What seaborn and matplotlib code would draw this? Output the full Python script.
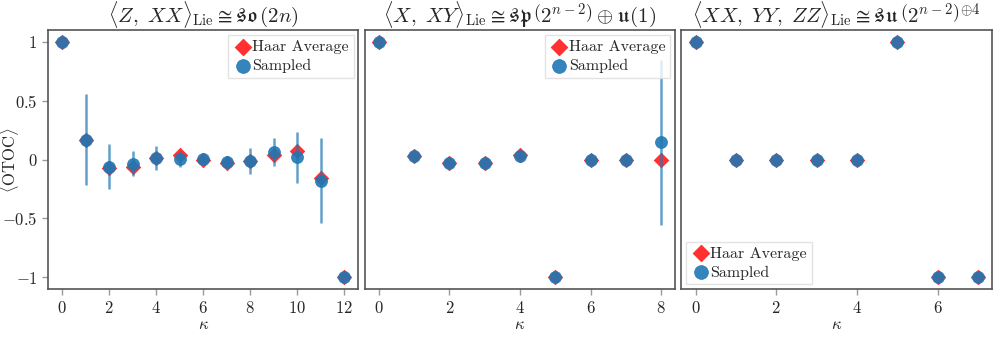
import numpy as np
import pandas as pd
import matplotlib
matplotlib.use("Agg")
import matplotlib.pyplot as plt
import seaborn as sns

# panel 1: <Z, XX>_Lie
k1 = list(range(13))
haar1 = [1.0, 0.17, -0.07, -0.06, 0.01, 0.035, 0.0, -0.025, -0.01, 0.035, 0.07, -0.16, -1.0]
samp1 = [1.0, 0.17, -0.06, -0.035, 0.012, 0.005, 0.003, -0.023, -0.015, 0.065, 0.02, -0.18, -1.0]
err1 = [0.0, 0.39, 0.19, 0.105, 0.1, 0.07, 0.03, 0.05, 0.11, 0.12, 0.215, 0.36, 0.0]

# panel 2: <X, XY>_Lie
k2 = list(range(9))
haar2 = [1.0, 0.03, -0.03, -0.03, 0.035, -1.0, 0.0, 0.0, 0.0]
samp2 = [1.0, 0.028, -0.028, -0.03, 0.034, -1.0, 0.0, 0.0, 0.148]
err2 = [0.0, 0.01, 0.01, 0.01, 0.03, 0.0, 0.01, 0.01, 0.7]

# panel 3: <XX, YY, ZZ>_Lie
k3 = list(range(8))
haar3 = [1.0, 0.0, 0.0, 0.0, 0.0, 1.0, -1.0, -1.0]
samp3 = [1.0, 0.0, 0.0, 0.0, 0.0, 1.0, -1.0, -1.0]
err3 = [0.0, 0.0, 0.0, 0.0, 0.0, 0.0, 0.0, 0.0]

titles = [
    r"$\langle Z,\ XX\rangle_{\mathrm{Lie}} \cong \mathfrak{so}\,(2n)$",
    r"$\langle X,\ XY\rangle_{\mathrm{Lie}} \cong \mathfrak{sp}\,\left(2^{n-2}\right) \oplus \mathfrak{u}(1)$",
    r"$\langle XX,\ YY,\ ZZ\rangle_{\mathrm{Lie}} \cong \mathfrak{su}\,\left(2^{n-2}\right)^{\oplus 4}$",
]
legend_locs = ["upper right", "upper right", "lower left"]
yticks = [-1, -0.5, 0, 0.5, 1]
ytick_labels = [r"$-1$", r"$-0.5$", r"$0$", r"$0.5$", r"$1$"]

sns.set_theme(style="ticks")
plt.rcParams["font.family"] = ["cmr10", "DejaVu Serif"]
plt.rcParams["mathtext.fontset"] = "cm"
plt.rcParams["axes.formatter.use_mathtext"] = True
plt.rcParams["axes.unicode_minus"] = False

fig, axes = plt.subplots(1, 3, figsize=(9.97, 3.37), dpi=100, sharey=True)
fig.subplots_adjust(left=0.048, right=0.995, bottom=0.142, top=0.911, wspace=0.02)

panels = [(k1, haar1, samp1, err1), (k2, haar2, samp2, err2), (k3, haar3, samp3, err3)]
for ax, (k, haar, samp, err), title, loc in zip(axes, panels, titles, legend_locs):
    df = pd.DataFrame({"k": k, "haar": haar, "samp": samp, "err": err})
    sns.scatterplot(data=df, x="k", y="haar", marker="D", s=55, color="#ff1a1a",
                    edgecolor="#ff1a1a", linewidth=0.5, alpha=0.9, ax=ax,
                    label="Haar Average", zorder=2)
    ax.errorbar(df["k"], df["samp"], yerr=df["err"], fmt="none",
                ecolor="#1f77b4", alpha=0.7, elinewidth=1.8, zorder=3)
    sns.scatterplot(data=df, x="k", y="samp", marker="o", s=75, color="#1f77b4",
                    edgecolor="#1f77b4", linewidth=0.5, alpha=0.9, ax=ax,
                    label="Sampled", zorder=4)
    ax.set_title(title, fontsize=15, pad=4)
    ax.set_xlabel(r"$\kappa$", fontsize=12, labelpad=1)
    ax.set_ylabel("")
    ax.set_ylim(-1.1, 1.1)
    ax.margins(x=0.05)
    ax.set_xticks([t for t in k if t % 2 == 0])
    ax.set_xticklabels([rf"${t}$" for t in k if t % 2 == 0])
    for sp in ax.spines.values():
        sp.set_visible(True)
        sp.set_color("#555555")
        sp.set_linewidth(1.2)
    ax.tick_params(axis="both", labelsize=12, length=4, color="#999999", width=1)
    leg = ax.legend(loc=loc, fontsize=11.5, frameon=True, fancybox=False,
                    handletextpad=0.0, borderpad=0.3, labelspacing=0.3,
                    handlelength=1.2, borderaxespad=0.3, markerscale=1.15)
    leg.get_frame().set_edgecolor("#dddddd")
    leg.get_frame().set_linewidth(1.0)

axes[0].set_yticks(yticks)
axes[0].set_yticklabels(ytick_labels)
axes[0].set_ylabel(r"$\langle \mathrm{OTOC}\rangle$", fontsize=12)
axes[0].yaxis.set_label_coords(-0.088, 0.5)
for ax in axes[1:]:
    ax.tick_params(axis="y", left=False, labelleft=False)

fig.savefig("out.png", dpi=100)
